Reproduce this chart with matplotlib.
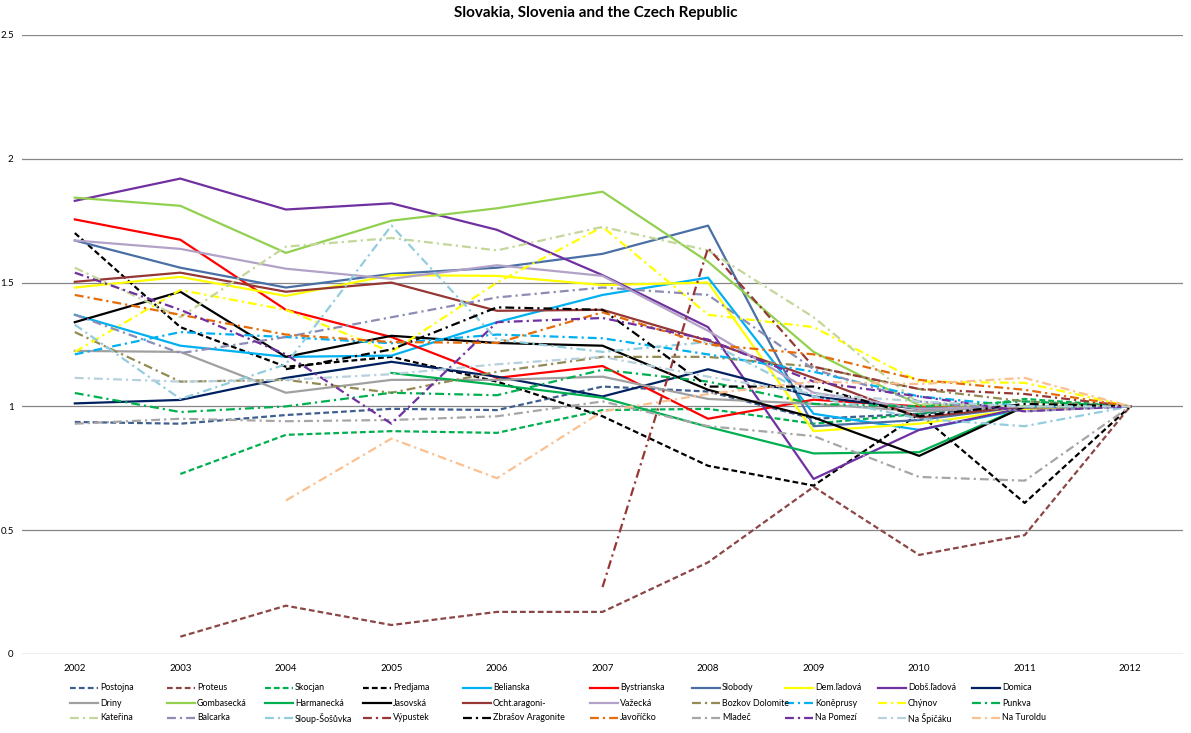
import numpy as np
import matplotlib
matplotlib.use('Agg')
import matplotlib.pyplot as plt
from matplotlib.lines import Line2D

plt.rcParams['font.family'] = ['Lato', 'DejaVu Sans']

nan = np.nan

years = ['2002', '2003', '2004', '2005', '2006', '2007', '2008', '2009', '2010', '2011', '2012']

# ------------------------------------------------------------
# series values
# ------------------------------------------------------------
postojna = [0.937, 0.93, 0.965, 0.99, 0.985, 1.08, 1.06, 0.95, 0.97, 1.0, 1.0]
proteus = [nan, 0.07, 0.195, 0.117, 0.17, 0.17, 0.37, 0.675, 0.40, 0.48, 1.0]
skocjan = [nan, 0.727, 0.885, 0.90, 0.893, 0.985, 0.99, 0.93, 0.97, 1.03, 1.0]
predjama = [1.70, 1.32, 1.16, 1.20, 1.10, 0.96, 0.76, 0.68, 0.97, 0.61, 1.0]
belianska = [1.37, 1.245, 1.20, 1.205, 1.34, 1.45, 1.52, 0.97, 0.905, 0.99, 1.0]
bystrianska = [1.755, 1.673, 1.39, 1.28, 1.115, 1.163, 0.95, 1.027, 1.0, 1.0, 1.0]
slobody = [1.67, 1.56, 1.48, 1.535, 1.56, 1.616, 1.73, 0.92, 0.945, 1.0, 1.0]
dem_ladova = [1.48, 1.523, 1.446, 1.53, 1.527, 1.49, 1.50, 0.90, 0.93, 0.99, 1.0]
dobs_ladova = [1.83, 1.92, 1.795, 1.82, 1.713, 1.53, 1.32, 0.707, 0.905, 0.995, 1.0]
domica = [1.012, 1.026, 1.115, 1.18, 1.12, 1.04, 1.15, 1.04, 0.99, 1.0, 1.0]
driny = [1.224, 1.22, 1.055, 1.107, 1.107, 1.12, 1.03, 1.01, 0.98, 1.0, 1.0]
gombasecka = [1.843, 1.81, 1.62, 1.75, 1.80, 1.867, 1.584, 1.22, 1.005, 1.0, 1.0]
harmanecka = [nan, nan, nan, 1.135, 1.087, 1.035, 0.917, 0.81, 0.815, 1.0, 1.0]
jasovska = [1.34, 1.463, 1.20, 1.285, 1.256, 1.245, 1.067, 0.955, 0.80, 1.0, 1.0]
ocht_aragonit = [1.503, 1.54, 1.463, 1.50, 1.386, 1.39, 1.265, 1.115, 0.955, 1.0, 1.0]
vazecka = [1.67, 1.636, 1.556, 1.515, 1.57, 1.527, 1.305, 1.055, 0.99, 1.0, 1.0]
bozkov = [1.30, 1.10, 1.107, 1.055, 1.14, 1.20, 1.20, 1.16, 1.07, 1.02, 1.0]
koneprusy = [1.21, 1.30, 1.28, 1.255, 1.29, 1.275, 1.21, 1.14, 1.04, 1.0, 1.0]
chynov = [1.22, 1.47, 1.39, 1.22, 1.50, 1.725, 1.37, 1.32, 1.10, 1.095, 1.0]
punkva = [1.054, 0.977, 1.0, 1.055, 1.045, 1.148, 1.10, 1.01, 1.0, 1.02, 1.0]
katerina = [1.56, 1.36, 1.645, 1.68, 1.63, 1.725, 1.63, 1.36, 1.01, 1.0, 1.0]
balcarka = [1.37, 1.215, 1.28, 1.36, 1.44, 1.48, 1.45, 1.15, 1.02, 0.98, 1.0]
sloup = [1.33, 1.03, 1.17, 1.73, 1.27, 1.22, 1.26, 1.04, 0.95, 0.92, 1.0]
vypustek = [nan, nan, nan, nan, nan, 0.27, 1.64, 1.16, 1.07, 1.05, 1.0]
zbrasov = [nan, nan, 1.15, 1.23, 1.40, 1.39, 1.08, 1.08, 0.96, 1.01, 1.0]
javoricko = [1.45, 1.37, 1.29, 1.26, 1.256, 1.38, 1.25, 1.21, 1.107, 1.067, 1.0]
mladec = [0.93, 0.95, 0.94, 0.945, 0.96, 1.02, 0.92, 0.88, 0.715, 0.70, 1.0]
na_pomezi = [1.54, 1.39, 1.21, 0.93, 1.34, 1.357, 1.27, 1.10, 1.04, 0.98, 1.0]
na_spicaku = [1.115, 1.10, 1.107, 1.13, 1.17, 1.20, 1.12, 1.05, 1.02, 1.0, 1.0]
na_turoldu = [nan, nan, 0.62, 0.87, 0.71, 0.98, 1.05, 1.10, 1.09, 1.115, 1.0]

# name, values, colour, style ('dash', 'solid', 'dashdot')
series = [
    ('Postojna', postojna, '#3F5F8F', 'dash'),
    ('Proteus', proteus, '#8C4646', 'dash'),
    ('Skocjan', skocjan, '#00B050', 'dash'),
    ('Predjama', predjama, '#000000', 'dash'),
    ('Belianska', belianska, '#00B0F0', 'solid'),
    ('Bystrianska', bystrianska, '#FF0000', 'solid'),
    ('Slobody', slobody, '#4A6FA5', 'solid'),
    ('Dem.ľadová', dem_ladova, '#FFFF00', 'solid'),
    ('Dobš.ľadová', dobs_ladova, '#7030A0', 'solid'),
    ('Domica', domica, '#002060', 'solid'),
    ('Driny', driny, '#A0A0A0', 'solid'),
    ('Gombasecká', gombasecka, '#92D050', 'solid'),
    ('Harmanecká', harmanecka, '#00B050', 'solid'),
    ('Jasovská', jasovska, '#000000', 'solid'),
    ('Ocht.aragoni-', ocht_aragonit, '#953735', 'solid'),
    ('Važecká', vazecka, '#B3A2C7', 'solid'),
    ('Bozkov Dolomite', bozkov, '#948A54', 'dashdot'),
    ('Koněprusy', koneprusy, '#00B0F0', 'dashdot'),
    ('Chýnov', chynov, '#FFFF00', 'dashdot'),
    ('Punkva', punkva, '#00B050', 'dashdot'),
    ('Kateřina', katerina, '#C4D79B', 'dashdot'),
    ('Balcarka', balcarka, '#8C8CB4', 'dashdot'),
    ('Sloup-Šošůvka', sloup, '#93CDDD', 'dashdot'),
    ('Výpustek', vypustek, '#953735', 'dashdot'),
    ('Zbrašov Aragonite', zbrasov, '#000000', 'dashdot'),
    ('Javoříčko', javoricko, '#E46C0A', 'dashdot'),
    ('Mladeč', mladec, '#A6A6A6', 'dashdot'),
    ('Na Pomezí', na_pomezi, '#7030A0', 'dashdot'),
    ('Na Špičáku', na_spicaku, '#B7D0DC', 'dashdot'),
    ('Na Turoldu', na_turoldu, '#FAC090', 'dashdot'),
]

dash_styles = {
    'dash': (2.6, 1.4),
    'dashdot': (4.0, 1.8, 1.0, 1.8),
}

# ------------------------------------------------------------
# plot
# ------------------------------------------------------------
W, H = 1191, 733
fig = plt.figure(figsize=(W / 100, H / 100), dpi=100)
ax = fig.add_axes([0.0185, 0.1078, 0.9748, 0.8445])

x = np.arange(len(years))
for name, vals, color, style in series:
    line, = ax.plot(x, np.array(vals, dtype=float), color=color, lw=1.6, label=name)
    if style != 'solid':
        line.set_dashes(dash_styles[style])

ax.set_xlim(-0.5, len(years) - 0.5)
ax.set_ylim(0, 2.5)
ax.set_yticks([0, 0.5, 1, 1.5, 2, 2.5])
ax.set_yticklabels(['0', '0.5', '1', '1.5', '2', '2.5'])
ax.set_xticks(x)
ax.set_xticklabels(years)
ax.tick_params(axis='both', length=0, labelsize=7, colors='#000000')
ax.tick_params(axis='y', pad=6)
ax.tick_params(axis='x', pad=7)

ax.grid(axis='y', color='#868686', lw=0.9)
ax.set_axisbelow(True)
for spine in ax.spines.values():
    spine.set_visible(False)

fig.text(0.5, 0.982, 'Slovakia, Slovenia and the Czech Republic',
         ha='center', va='center', fontsize=11, fontweight='bold')

# ------------------------------------------------------------
# legend, laid out like Excel (row by row, fixed columns)
# ------------------------------------------------------------
col_left = [70, 167, 265, 363, 463, 590, 692, 785, 878, 972]
row_y = [688, 703, 718]
handle_len = 28

for i, (name, vals, color, style) in enumerate(series):
    r, c = divmod(i, 10)
    x0 = col_left[c] / W
    x1 = (col_left[c] + handle_len) / W
    y0 = 1 - row_y[r] / H
    h = Line2D([x0, x1], [y0, y0], transform=fig.transFigure,
               color=color, lw=1.6)
    if style != 'solid':
        h.set_dashes(dash_styles[style])
    fig.add_artist(h)
    fig.text(x1 + 2 / W, y0, name, ha='left', va='center', fontsize=6.4)

fig.savefig('out.png', dpi=100)
